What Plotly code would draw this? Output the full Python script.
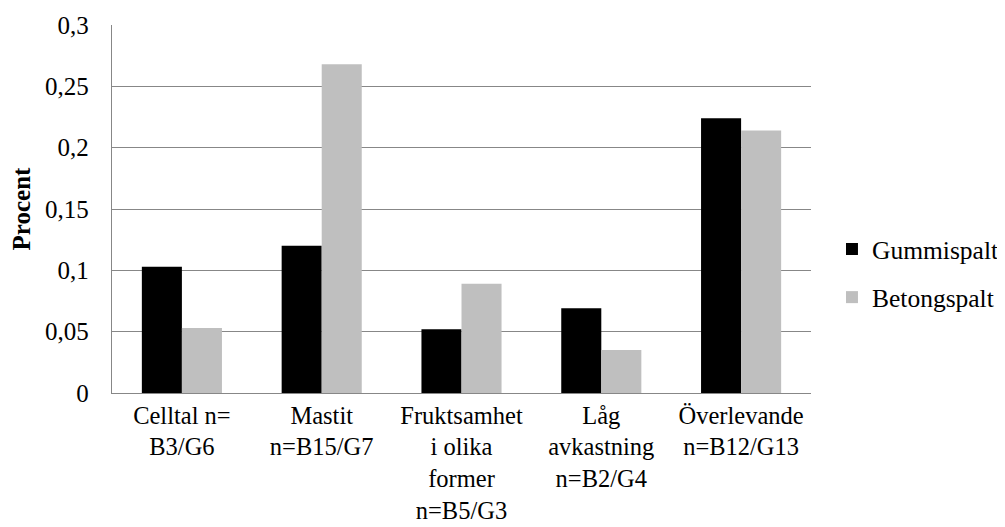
import plotly.graph_objects as go

categories = [
    "Celltal n=<br>B3/G6",
    "Mastit<br>n=B15/G7",
    "Fruktsamhet<br>i olika<br>former<br>n=B5/G3",
    "Låg<br>avkastning<br>n=B2/G4",
    "Överlevande<br>n=B12/G13",
]
gummispalt = [0.103, 0.120, 0.052, 0.069, 0.224]
betongspalt = [0.053, 0.268, 0.089, 0.035, 0.214]

y_tickvals = [0, 0.05, 0.1, 0.15, 0.2, 0.25, 0.3]
y_ticktext = ["0", "0,05", "0,1", "0,15", "0,2", "0,25", "0,3"]

FONT = "Liberation Serif, Times New Roman, serif"
GRID = "#878787"

fig = go.Figure()
fig.add_trace(go.Bar(x=categories, y=gummispalt, name="Gummispalt",
                     marker=dict(color="#000000", line=dict(width=0)),
                     legendgroup="g1"))
fig.add_trace(go.Bar(x=categories, y=betongspalt, name="Betongspalt",
                     marker=dict(color="#BFBFBF", line=dict(width=0)),
                     legendgroup="g2"))

# page body has an 8px margin, so figure is 8px smaller and offsets reduced
fig.update_layout(
    width=997, height=519,
    margin=dict(l=104, r=194, t=17, b=133.5, pad=0, autoexpand=False),
    paper_bgcolor="white", plot_bgcolor="white",
    font=dict(family=FONT, size=25, color="#000000"),
    barmode="group", bargap=0.427, bargroupgap=0,
    showlegend=True,
    legend=dict(x=1.03, xanchor="left", y=0.325, yanchor="middle",
                font=dict(family=FONT, size=25.5, color="#000000"),
                traceorder="grouped", tracegroupgap=12,
                bgcolor="rgba(0,0,0,0)", borderwidth=0),
    xaxis=dict(showline=True, linecolor=GRID, linewidth=1.3,
               showgrid=False, ticks="", tickangle=0, automargin=False,
               ticklabelstandoff=0,
               tickfont=dict(family=FONT, size=24.5, color="#000000")),
    yaxis=dict(range=[0, 0.3], tickvals=y_tickvals, ticktext=y_ticktext,
               showgrid=True, gridcolor=GRID, gridwidth=1.3,
               showline=True, linecolor=GRID, linewidth=1.3,
               zeroline=False, ticks="", ticklabelstandoff=17, automargin=False,
               tickfont=dict(family=FONT, size=25, color="#000000"),
               title=dict(text="<b>Procent</b>", standoff=12,
                          font=dict(family=FONT, size=25, color="#000000"))),
)

fig.write_html("out.html")
